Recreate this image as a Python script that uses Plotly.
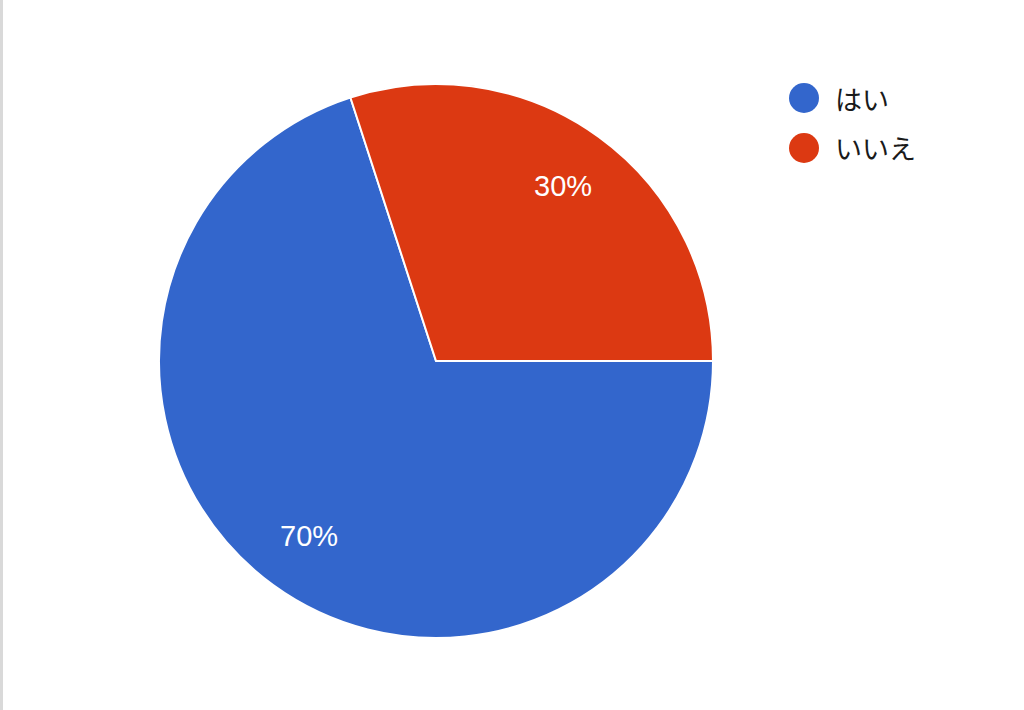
import math
import plotly.graph_objects as go

labels = ["はい", "いいえ"]
values = [70, 30]
colors = ["#3366CC", "#DC3912"]

W, H = 1024, 710
# pie geometry (pixels)
CX, CY, R = 436, 361, 277
START_DEG = 0  # first slice starts at 3 o'clock, going clockwise

fig = go.Figure()
fig.add_trace(go.Pie(
    labels=labels,
    values=values,
    sort=False,
    direction="clockwise",
    rotation=90,
    marker=dict(colors=colors, line=dict(color="white", width=2)),
    textinfo="none",
    showlegend=False,
    hoverinfo="label+percent",
    domain=dict(x=[(CX - R) / W, (CX + R) / W], y=[1 - (CY + R) / H, 1 - (CY - R) / H]),
))

shapes = [dict(type="rect", xref="paper", yref="paper", x0=0, x1=3 / W, y0=0, y1=1,
               fillcolor="#d9d9d9", line=dict(width=0), layer="below")]
annotations = []

# percentage labels placed at slice mid-angles
total = sum(values)
cum = 0
for v in values:
    mid = math.radians(START_DEG - (cum + v / 2) / total * 360)
    cum += v
    px = CX + 0.78 * R * math.cos(mid)
    py = CY - 0.78 * R * math.sin(mid)
    annotations.append(dict(text=f"{round(v / total * 100)}%", xref="paper", yref="paper",
                            x=px / W, y=1 - py / H, xanchor="center", yanchor="middle",
                            showarrow=False,
                            font=dict(size=29, color="white",
                                      family="Liberation Sans, Arial, sans-serif")))

# legend drawn as circles + text
leg_x, leg_y0, leg_dy, leg_r = 804, 98, 50, 15
for i, (lab, col) in enumerate(zip(labels, colors)):
    cy = leg_y0 + i * leg_dy
    shapes.append(dict(type="circle", xref="paper", yref="paper",
                       x0=(leg_x - leg_r) / W, x1=(leg_x + leg_r) / W,
                       y0=1 - (cy + leg_r) / H, y1=1 - (cy - leg_r) / H,
                       fillcolor=col, line=dict(width=0)))
    annotations.append(dict(text=lab, xref="paper", yref="paper",
                            x=(leg_x + 29) / W, y=1 - cy / H,
                            xanchor="left", yanchor="middle", showarrow=False,
                            font=dict(size=27, color="#1a1a1a",
                                      family="Noto Sans CJK JP, sans-serif")))

fig.update_layout(
    width=W, height=H,
    margin=dict(l=0, r=0, t=0, b=0),
    paper_bgcolor="white",
    plot_bgcolor="white",
    shapes=shapes,
    annotations=annotations,
)

fig.write_html("out.html",
               config={"displayModeBar": False},
               post_script="document.body.style.margin='0';document.body.style.overflow='hidden';")
